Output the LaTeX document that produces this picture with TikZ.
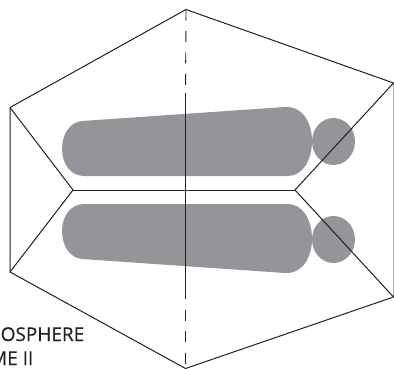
\documentclass[tikz,border=0pt]{standalone}
\usepackage{fontspec}
\setmainfont{Open Sans}
\newfontfamily\capfont[FakeBold=0.3]{Open Sans}
\definecolor{blobgray}{HTML}{939598}
\definecolor{inkdark}{HTML}{231F20}
\tikzset{
  edge/.style={draw=inkdark,line width=1pt,line join=miter},
  axisdash/.style={draw=inkdark,line width=0.9pt,dash pattern=on 11pt off 10.5pt},
  blob/.style={fill=blobgray,draw=none},
  caption/.style={inner sep=0pt,anchor=base west,text=inkdark,font=\capfont\fontsize{19}{22}\selectfont}
}
\begin{document}
\begin{tikzpicture}[x=1pt,y=-1pt]
\useasboundingbox (0,0) rectangle (394,369);
\coordinate (top) at (186,9.5);
\coordinate (ul) at (10,107.5);
\coordinate (ll) at (10,272);
\coordinate (bot) at (185.5,368.5);
\coordinate (lr) at (393.5,297);
\coordinate (ur) at (393.5,83);
\coordinate (jl) at (73,190);
\coordinate (jr) at (295,190);
% blobs
\path[blob] (82,121) -- (285,107) .. controls (302,106) and (312,122) .. (312,141)
  .. controls (312,161) and (302,176) .. (288,176) -- (84,176)
  .. controls (71,176) and (62,164) .. (62,149) .. controls (62,134) and (70,122) .. (82,121) -- cycle;
\path[blob] (84,204) -- (288,204) .. controls (302,204) and (312,219) .. (312,239)
  .. controls (312,258) and (302,274) .. (285,273) -- (82,259)
  .. controls (70,258) and (62,246) .. (62,231) .. controls (62,216) and (71,204) .. (84,204) -- cycle;
\path[blob] (333.5,141.5) ellipse [x radius=21.5,y radius=23.5];
\path[blob] (333.5,239.5) ellipse [x radius=21.5,y radius=23.5];
% right edge
\draw[draw=black!35,line width=1pt] (ur) -- (lr);
% outline
\draw[edge] (ll) -- (ul) -- (top) -- (ur);
\draw[edge] (ll) -- (bot) -- (lr);
\draw[edge] (ul) -- (jl) -- (ll);
\draw[edge] (ur) -- (jr) -- (lr);
\draw[edge] (jl) -- (jr);
% axis
\coordinate (axa) at (185.5,93);
\coordinate (axb) at (185.5,288);
\draw[edge] (axa) -- (axb);
\draw[axisdash] (top) -- (axa);
\draw[axisdash] (axb) -- (bot);
% caption
\node[caption] (cap1) at (0.5,341) {OSPHERE};
\node[caption,anchor=base east] (cap2) at (33.5,365) {ME II};
\end{tikzpicture}
\end{document}
